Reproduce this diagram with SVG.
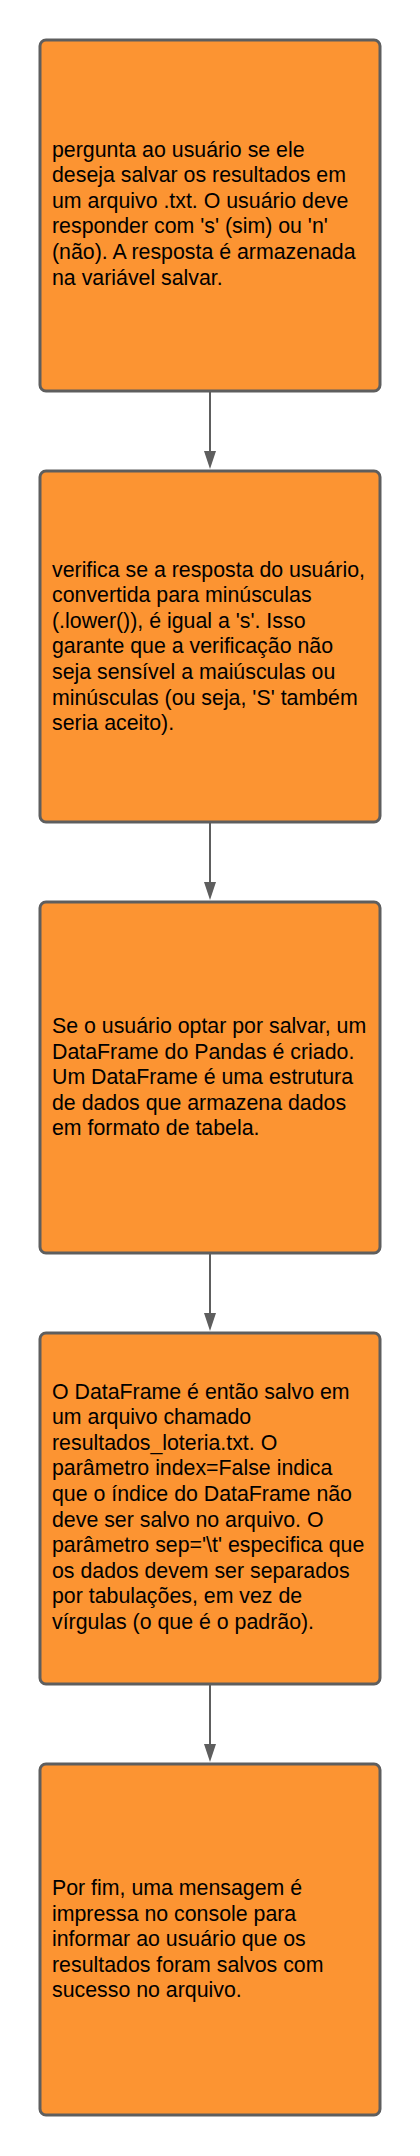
<svg xmlns="http://www.w3.org/2000/svg" width="420" height="2156" viewBox="0 0 420 2156">
<style>
.box{fill:#FC9432;stroke:#5E5E5E;stroke-width:3}
.t{font-family:"Liberation Sans",Arial,sans-serif;font-size:21.33px;fill:#000}
.c{stroke:#5E5E5E;stroke-width:2;fill:none}
.ah{fill:#5E5E5E}
</style>
<rect width="420" height="2156" fill="#fff"/>
<g id="connectors">
<line class="c" x1="210" y1="391" x2="210" y2="452"/>
<polygon class="ah" points="204,451 216,451 210,469"/>
<line class="c" x1="210" y1="822" x2="210" y2="883"/>
<polygon class="ah" points="204,882 216,882 210,900"/>
<line class="c" x1="210" y1="1253" x2="210" y2="1314"/>
<polygon class="ah" points="204,1313 216,1313 210,1331"/>
<line class="c" x1="210" y1="1684" x2="210" y2="1745"/>
<polygon class="ah" points="204,1744 216,1744 210,1762"/>
</g>
<g id="node1">
<rect class="box" x="40" y="40" width="340" height="351" rx="6"/>
<text class="t" x="52" y="156.5"><tspan x="52">pergunta ao usuário se ele</tspan><tspan x="52" dy="25.6">deseja salvar os resultados em</tspan><tspan x="52" dy="25.6">um arquivo .txt. O usuário deve</tspan><tspan x="52" dy="25.6">responder com 's' (sim) ou 'n'</tspan><tspan x="52" dy="25.6">(não). A resposta é armazenada</tspan><tspan x="52" dy="25.6">na variável salvar.</tspan></text>
</g>
<g id="node2">
<rect class="box" x="40" y="471" width="340" height="351" rx="6"/>
<text class="t" x="52" y="576.5"><tspan x="52">verifica se a resposta do usuário,</tspan><tspan x="52" dy="25.6">convertida para minúsculas</tspan><tspan x="52" dy="25.6">(.lower()), é igual a 's'. Isso</tspan><tspan x="52" dy="25.6">garante que a verificação não</tspan><tspan x="52" dy="25.6">seja sensível a maiúsculas ou</tspan><tspan x="52" dy="25.6">minúsculas (ou seja, 'S' também</tspan><tspan x="52" dy="25.6">seria aceito).</tspan></text>
</g>
<g id="node3">
<rect class="box" x="40" y="902" width="340" height="351" rx="6"/>
<text class="t" x="52" y="1033"><tspan x="52">Se o usuário optar por salvar, um</tspan><tspan x="52" dy="25.6">DataFrame do Pandas é criado.</tspan><tspan x="52" dy="25.6">Um DataFrame é uma estrutura</tspan><tspan x="52" dy="25.6">de dados que armazena dados</tspan><tspan x="52" dy="25.6">em formato de tabela.</tspan></text>
</g>
<g id="node4">
<rect class="box" x="40" y="1333" width="340" height="351" rx="6"/>
<text class="t" x="52" y="1398.5"><tspan x="52">O DataFrame é então salvo em</tspan><tspan x="52" dy="25.6">um arquivo chamado</tspan><tspan x="52" dy="25.6">resultados_loteria.txt. O</tspan><tspan x="52" dy="25.6">parâmetro index=False indica</tspan><tspan x="52" dy="25.6">que o índice do DataFrame não</tspan><tspan x="52" dy="25.6">deve ser salvo no arquivo. O</tspan><tspan x="52" dy="25.6">parâmetro sep='\t' especifica que</tspan><tspan x="52" dy="25.6">os dados devem ser separados</tspan><tspan x="52" dy="25.6">por tabulações, em vez de</tspan><tspan x="52" dy="25.6">vírgulas (o que é o padrão).</tspan></text>
</g>
<g id="node5">
<rect class="box" x="40" y="1764" width="340" height="351" rx="6"/>
<text class="t" x="52" y="1895"><tspan x="52">Por fim, uma mensagem é</tspan><tspan x="52" dy="25.6">impressa no console para</tspan><tspan x="52" dy="25.6">informar ao usuário que os</tspan><tspan x="52" dy="25.6">resultados foram salvos com</tspan><tspan x="52" dy="25.6">sucesso no arquivo.</tspan></text>
</g>
</svg>
